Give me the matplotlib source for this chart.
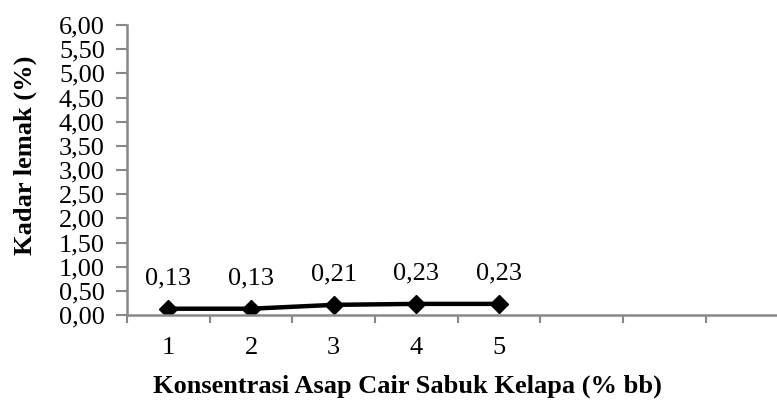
import numpy as np
import matplotlib.pyplot as plt
from matplotlib.ticker import FixedLocator, FuncFormatter

# data
konsentrasi = [1, 2, 3, 4, 5]
kadar_lemak = [0.13, 0.13, 0.21, 0.23, 0.23]
label_data = ['0,13', '0,13', '0,21', '0,23', '0,23']
y_ticks = np.arange(0, 6.01, 0.5)

plt.rcParams['font.family'] = ['Liberation Serif', 'DejaVu Serif']
fs = 19

fig = plt.figure(figsize=(7.77, 4.01), dpi=100)
ax = fig.add_axes([127/777, 86/401, 650/777, 290/401])

ax.plot(konsentrasi, kadar_lemak, '-', color='black', linewidth=3.2,
        marker='D', markersize=9, markerfacecolor='black', markeredgecolor='black')
for x, y, t in zip(konsentrasi, kadar_lemak, label_data):
    ax.annotate(t, (x, y), xytext=(0, 22), textcoords='offset points',
                ha='center', va='center', fontsize=fs)

ax.set_xlim(0.5, 8.36)
ax.set_ylim(0, 6)

# category labels centred, ticks on the boundaries
ax.xaxis.set_major_locator(FixedLocator(konsentrasi))
ax.xaxis.set_minor_locator(FixedLocator(np.arange(0.5, 8.0, 1.0)))
ax.tick_params(axis='x', which='major', length=0, labelsize=fs, pad=16)
ax.tick_params(axis='x', which='minor', length=6, width=1.5, color='#888888', direction='out')

ax.set_yticks(y_ticks)
ax.yaxis.set_major_formatter(FuncFormatter(lambda v, p: ('%.2f' % v).replace('.', ',')))
ax.tick_params(axis='y', length=8, width=1.5, color='#888888', labelsize=fs, pad=8)

for s in ['top', 'right']:
    ax.spines[s].set_visible(False)
for s in ['left', 'bottom']:
    ax.spines[s].set_color('#888888')
    ax.spines[s].set_linewidth(1.8)

ax.set_ylabel('Kadar lemak (%)', fontsize=fs, fontweight='bold', va='center')
ax.yaxis.set_label_coords(-0.157, 0.55)
ax.set_xlabel('Konsentrasi Asap Cair Sabuk Kelapa (% bb)', fontsize=fs, fontweight='bold', va='center')
ax.xaxis.set_label_coords(0.432, -0.245)

plt.savefig('out.png', dpi=100)
